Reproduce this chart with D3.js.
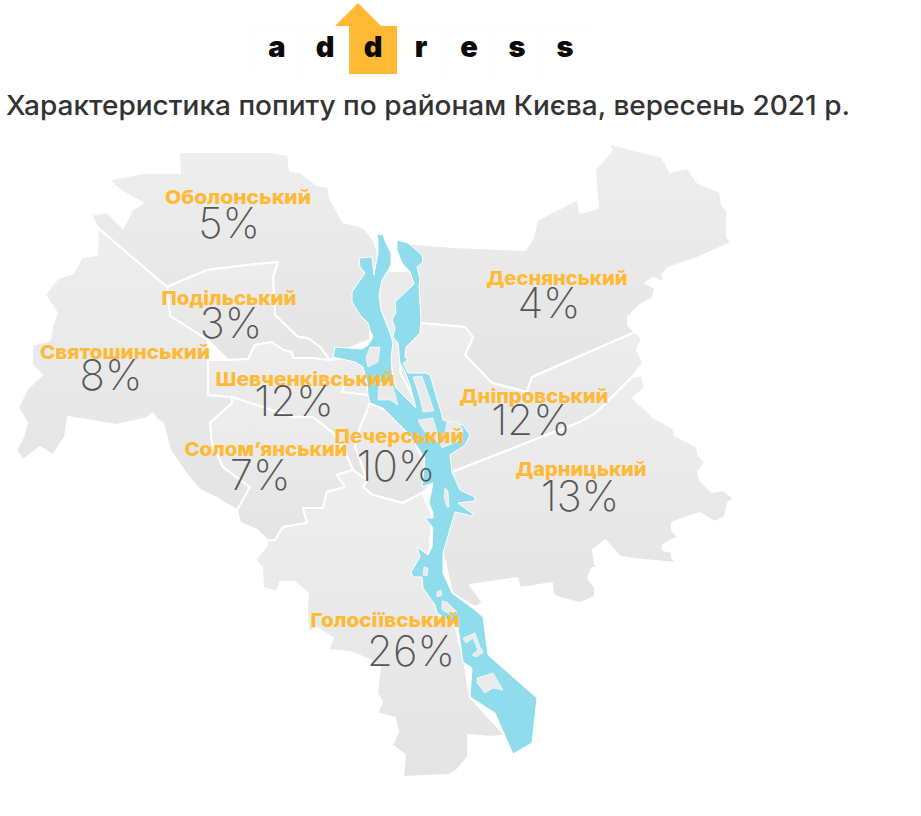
<!DOCTYPE html>
<html>
<head>
<meta charset="utf-8">
<script src="https://cdn.jsdelivr.net/npm/d3@7"></script>
<style>
  html, body { margin: 0; padding: 0; background: #fff; }
  svg { display: block; }
</style>
</head>
<body>
<svg id="chart" width="921" height="816"></svg>
<script>
// district values
const names = ['Оболонський', 'Подільський', 'Святошинський', 'Шевченківський', 'Солом\u2019янський',
  'Печерський', 'Деснянський', 'Дніпровський', 'Дарницький', 'Голосіївський'];
const shares = [5, 3, 8, 12, 7, 10, 4, 12, 13, 26];
const logoLetters = ['a', 'd', 'd', 'r', 'e', 's', 's'];
const titleText = 'Характеристика попиту по районам Києва, вересень 2021 р.';

// outlines, in its pixel space
const obolon = [[108,180],[143,173],[180,173],[179,152],[272,152],[288,155],[290,171],[300,172],[317,185],[328,187],[330,198],[343,222],[363,227],[375,242],[378,255],[370,290],[370,340],[345,350],[330,360],[320,347],[308,338],[298,337],[275,315],[273,277],[278,262],[247,265],[207,270],[167,287],[98,228],[91,215],[107,212],[123,228],[132,210],[143,203],[123,192]];
const podil = [[167,287],[207,270],[247,265],[278,262],[273,277],[275,315],[298,337],[308,338],[320,347],[330,360],[312,358],[293,358],[292,352],[283,350],[272,342],[255,345],[248,359],[228,360],[208,340],[170,316]];
const svyat = [[98,228],[167,287],[170,316],[208,340],[208,360],[208,395],[232,397],[232,403],[210,423],[212,443],[223,467],[250,487],[237,510],[220,500],[200,490],[187,475],[170,450],[163,423],[157,420],[153,413],[147,418],[117,425],[68,417],[65,437],[53,455],[40,447],[23,460],[16,450],[23,437],[27,423],[18,407],[28,388],[42,375],[32,365],[32,345],[50,340],[52,327],[57,313],[45,295],[58,278],[73,273],[82,257],[97,255]];
const shevch = [[208,360],[228,360],[248,359],[255,345],[272,342],[283,350],[292,352],[293,358],[312,358],[330,360],[345,358],[365,365],[372,385],[370,407],[360,427],[355,447],[360,460],[367,480],[353,470],[343,447],[333,433],[313,417],[293,417],[232,397],[208,395]];
const solom = [[232,397],[293,417],[313,417],[333,433],[343,447],[353,470],[337,475],[345,487],[327,492],[323,508],[303,508],[307,523],[283,527],[275,540],[267,540],[257,530],[240,523],[237,510],[250,487],[223,467],[212,443],[210,423],[232,403]];
const pechersk = [[370,403],[390,412],[413,438],[430,477],[433,483],[422,493],[403,503],[373,495],[363,487],[367,480],[360,460],[355,447],[360,427]];
const desna = [[405,243],[453,247],[525,250],[533,238],[537,220],[578,199],[580,213],[598,208],[595,170],[612,150],[607,143],[662,157],[670,172],[687,168],[698,183],[720,192],[722,205],[727,210],[727,237],[731,243],[697,258],[668,268],[662,275],[665,283],[653,278],[645,283],[655,288],[653,298],[640,305],[628,317],[628,325],[635,332],[532,377],[527,392],[492,383],[465,355],[473,337],[465,327],[420,323],[412,300],[418,275],[413,262]];
const dnipro = [[420,323],[465,327],[473,337],[465,355],[492,383],[527,392],[532,377],[635,332],[642,338],[637,350],[643,363],[632,377],[597,412],[580,422],[452,472],[440,440],[425,420],[400,372],[402,340]];
const darnyts = [[452,472],[580,422],[597,412],[632,377],[642,375],[645,388],[633,398],[653,417],[673,428],[675,435],[697,447],[698,455],[705,462],[698,472],[700,480],[712,492],[723,490],[734,498],[728,503],[725,517],[715,522],[700,513],[687,517],[672,523],[672,530],[678,537],[663,545],[663,550],[672,552],[672,557],[677,563],[643,560],[620,557],[605,540],[593,550],[595,565],[598,568],[592,568],[588,578],[595,588],[595,597],[580,603],[560,598],[553,595],[552,583],[520,588],[517,578],[470,585],[483,603],[475,607],[452,593],[443,553],[445,510]];
const holos = [[267,540],[275,540],[283,527],[307,523],[303,508],[323,508],[327,492],[345,487],[337,475],[353,470],[367,480],[363,487],[373,495],[403,503],[422,493],[432,515],[430,550],[420,570],[430,595],[455,625],[465,665],[470,697],[505,735],[493,737],[468,735],[468,757],[457,770],[448,775],[403,777],[405,755],[392,745],[398,732],[395,718],[377,713],[382,702],[377,693],[380,667],[370,660],[350,652],[328,650],[333,638],[317,628],[308,632],[307,607],[308,593],[295,582],[280,582],[277,592],[263,588],[262,567],[255,560],[267,545]];
const trukhaniv = [[388,272],[410,272],[414,284],[419,300],[405,372],[418,410],[396,388],[391,358],[381,310],[379,295],[382,280]];
const river = [[377,234],[378,240],[378,252],[374,275],[372,257],[359,258],[360,267],[365,273],[352,292],[352,302],[360,315],[368,323],[370,330],[373,337],[368,345],[362,349],[335,347],[333,357],[355,362],[363,367],[367,382],[368,395],[370,403],[383,408],[407,432],[425,458],[422,487],[433,483],[429,503],[433,513],[433,518],[425,518],[433,528],[432,547],[428,555],[417,547],[420,557],[411,572],[413,577],[422,577],[423,588],[435,605],[437,613],[458,627],[463,662],[472,668],[470,697],[495,713],[513,754],[532,743],[537,698],[488,655],[483,617],[475,610],[452,593],[443,573],[443,553],[455,512],[472,516],[473,514],[458,503],[475,501],[475,497],[460,490],[452,472],[450,455],[465,445],[470,435],[463,425],[443,420],[442,415],[430,375],[426,373],[408,373],[403,363],[408,360],[405,357],[406,347],[420,333],[421,320],[419,287],[420,278],[417,267],[423,262],[422,255],[408,243],[397,240],[397,250],[402,263],[410,272],[414,284],[395,302],[396,312],[392,320],[395,328],[393,337],[398,343],[400,363],[405,372],[410,385],[416,408],[406,398],[396,388],[392,372],[391,358],[393,343],[390,333],[381,310],[379,295],[382,280],[387,272],[391,265],[391,253],[386,243],[383,235]];
const islands = [
  [[379,383],[391,380],[393,387],[398,405],[390,400],[378,400]],
  [[370,347],[380,347],[378,362],[368,367],[366,358]],
  [[418,420],[433,418],[437,432],[438,443],[430,438],[422,428]],
  [[447,422],[458,422],[463,430],[460,440],[449,445],[442,448],[440,442],[445,433]],
  [[413,377],[422,376],[434,411],[423,412],[419,395]],
  [[445,488],[448,491],[449,507],[447,507],[444,497]],
  [[424,567],[428,568],[427,576],[423,575]],
  [[437,592],[441,590],[442,595],[437,597]],
  [[442,601],[447,602],[457,612],[450,614],[442,610]],
  [[463,638],[475,633],[480,647],[483,652],[477,657],[472,655],[478,650],[473,638],[466,643]],
  [[477,678],[493,673],[503,690],[493,688],[485,693],[477,683]]
];
const smallBorder = [[345,384],[342,392],[368,395]];

const districtShapes = [obolon, podil, svyat, shevch, solom, pechersk, desna, dnipro, darnyts, holos];

// layout of the labels
const nameX = [238, 229, 125, 305, 266, 399, 557, 534, 581, 385];
const nameY = [204, 305, 359, 386, 456, 443, 285, 403, 476, 627];
const nameW = [146, 135, 170, 179, 163, 129, 141, 149, 131, 149];
const shareX = [229, 231, 111, 294, 260, 396, 549, 531, 580, 411];
const shareY = [238, 338, 390, 416, 490, 481, 318, 435, 511, 666];

const ORANGE = '#ffb935';
const svg = d3.select('#chart');

const defs = svg.append('defs');
const grad = defs.append('linearGradient').attr('id', 'land').attr('x1', 0).attr('y1', 0).attr('x2', 0).attr('y2', 1);
grad.append('stop').attr('offset', 0).attr('stop-color', '#efeeee');
grad.append('stop').attr('offset', 1).attr('stop-color', '#e4e4e4');
defs.append('filter').attr('id', 'soft').append('feGaussianBlur').attr('stdDeviation', 0.5);

const path = d3.geoPath(d3.geoIdentity());
const polygon = (ring) => ({ type: 'Polygon', coordinates: [ring.concat([ring[0]])] });

// logo
const logoX = d3.scaleBand().domain(d3.range(logoLetters.length)).range([253, 589]);
const logo = svg.append('g');
logo.selectAll('rect.cell')
  .data(logoLetters)
  .join('rect')
  .attr('class', 'cell')
  .attr('x', (d, i) => logoX(i))
  .attr('y', 26)
  .attr('width', logoX.bandwidth())
  .attr('height', 48)
  .attr('fill', 'none')
  .attr('stroke', '#fcfcfc');
logo.append('rect')
  .attr('x', logoX(2)).attr('y', 26)
  .attr('width', logoX.bandwidth()).attr('height', 48)
  .attr('fill', ORANGE);
logo.append('path')
  .attr('d', path(polygon([[335,26],[358,3],[381,26]])))
  .attr('fill', ORANGE);
logo.selectAll('text')
  .data(logoLetters)
  .join('text')
  .attr('x', (d, i) => logoX(i) + logoX.bandwidth() / 2)
  .attr('y', 57)
  .attr('text-anchor', 'middle')
  .style('font', '900 29px Inter')
  .attr('fill', '#0a0a0a')
  .text((d) => d);

// title
svg.append('text')
  .attr('x', 6)
  .attr('y', 115)
  .attr('textLength', 844)
  .attr('lengthAdjust', 'spacingAndGlyphs')
  .style('font', '500 27px Inter')
  .attr('fill', '#333')
  .text(titleText);

// map
const map = svg.append('g').attr('filter', 'url(#soft)');
map.append('path')
  .attr('d', path(polygon(trukhaniv)))
  .attr('fill', '#ecebeb');
map.selectAll('path.district')
  .data(districtShapes)
  .join('path')
  .attr('class', 'district')
  .attr('d', (d) => path(polygon(d)))
  .attr('fill', 'url(#land)')
  .attr('stroke', '#fff')
  .attr('stroke-width', 2)
  .attr('stroke-linejoin', 'round');
map.append('path')
  .attr('d', path({ type: 'LineString', coordinates: smallBorder }))
  .attr('fill', 'none')
  .attr('stroke', '#fff')
  .attr('stroke-width', 2);
map.append('path')
  .attr('d', path(polygon(river)))
  .attr('fill', '#8fdced')
  .attr('stroke', '#fff')
  .attr('stroke-width', 1)
  .attr('stroke-linejoin', 'round');
map.selectAll('path.island')
  .data(islands)
  .join('path')
  .attr('class', 'island')
  .attr('d', (d) => path(polygon(d)))
  .attr('fill', '#eaeaea')
  .attr('stroke', '#fff')
  .attr('stroke-width', 0.6);

// labels
svg.selectAll('text.name')
  .data(names)
  .join('text')
  .attr('class', 'name')
  .attr('x', (d, i) => nameX[i])
  .attr('y', (d, i) => nameY[i])
  .attr('text-anchor', 'middle')
  .attr('textLength', (d, i) => nameW[i])
  .attr('lengthAdjust', 'spacingAndGlyphs')
  .style('font', '800 19px Inter')
  .attr('fill', ORANGE)
  .text((d) => d);

svg.selectAll('text.share')
  .data(shares)
  .join('text')
  .attr('class', 'share')
  .attr('x', (d, i) => shareX[i])
  .attr('y', (d, i) => shareY[i])
  .attr('text-anchor', 'middle')
  .style('font', '200 42px Inter')
  .attr('fill', '#555')
  .text((d) => d + '%');
</script>
</body>
</html>
